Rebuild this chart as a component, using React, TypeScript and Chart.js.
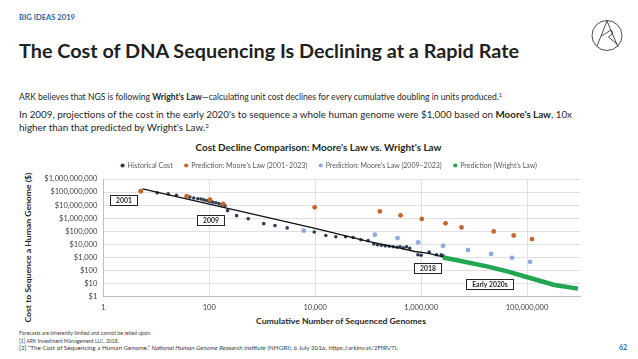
import React, { useEffect, useRef } from "react";
import { Chart, registerables } from "chart.js";

Chart.register(...registerables);

// ---------- data ----------
const seriesNames = [
  "Historical Cost",
  "Prediction: Moore's Law (2001–2023)",
  "Prediction: Moore's Law (2009–2023)",
  "Prediction (Wright's Law)",
];

const historicalGenomes = [
  10.4, 16.8, 24, 43, 51, 61, 70, 79, 90, 102, 116, 133, 152, 174, 198, 222, 329, 544, 1070, 1740, 2960,
  9600, 15900, 24500, 37500, 52000, 73000, 100000, 128000, 150000, 178000, 210000, 250000, 297000, 350000,
  400000, 460000, 530000, 610000, 870000, 1000000, 1420000, 1950000, 2400000, 2600000,
];
const historicalCost = [
  8.7e7, 7.2e7, 5.6e7, 4.1e7, 3.5e7, 3.1e7, 2.9e7, 2.5e7, 2.2e7, 1.9e7, 1.7e7, 1.5e7, 1.3e7, 1.0e7, 9.2e6,
  3.8e6, 1.56e6, 9.1e5, 3.8e5, 2.7e5, 1.8e5, 8.7e4, 4.7e4, 3.8e4, 3.8e4, 3.3e4, 2.2e4, 1.9e4, 1.04e4, 9.1e3,
  8.4e3, 7.6e3, 7.0e3, 6.4e3, 5.9e3, 6.4e3, 5.3e3, 6.4e3, 4.9e3, 1.56e3, 1.46e3, 2.5e3, 1.56e3, 1.56e3, 1.3e3,
];

const moore2001Genomes = [5.1, 37.5, 103, 184, 9800, 166000, 410000, 1030000, 2900000, 5800000, 23500000, 56000000, 124000000];
const moore2001Cost = [1.15e8, 4.8e7, 2.6e7, 1.24e7, 6.8e6, 3.3e6, 1.64e6, 8.7e5, 4.0e5, 1.95e5, 9.6e4, 4.7e4, 2.5e4];

const moore2009Genomes = [6100, 134000, 360000, 880000, 2600000, 7700000, 21000000, 52000000, 114000000];
const moore2009Cost = [1.1e5, 5.4e4, 3.0e4, 1.4e4, 7.7e3, 3.6e3, 1.8e3, 910, 450];

const wrightGenomes = [2600000, 4300000, 18400000, 44000000, 102000000, 330000000, 910000000];
const wrightCost = [966, 645, 196, 81, 30, 7.7, 4];

const trendGenomes = [5.5, 100, 10000, 100000, 400000, 760000, 1300000, 1800000, 2600000];
const trendCost = [1.76e8, 1.17e7, 1.64e5, 1.64e4, 5.1e3, 2.8e3, 2.1e3, 1.56e3, 1.1e3];

const xTickValues = [1, 100, 10000, 1000000, 100000000];
const yTickValues = [1, 10, 100, 1000, 10000, 100000, 1000000, 10000000, 100000000, 1000000000];

const annotationLabels = ["2001", "2009", "2018", "Early 2020s"];
const annotationGenomes = [2.43, 105, 1300000, 19800000];
const annotationCosts = [2.3e7, 7.7e5, 155, 8.7];

// ---------- styles ----------
const FONT = "Lato, 'Open Sans', sans-serif";
const BLUE = "#2467a6";
const TEXT = "#262626";
const colors = ["#2f3d55", "#c4672d", "#8faadc", "#21a651"];

const pts = (xs: number[], ys: number[]) => xs.map((x, i) => ({ x, y: ys[i] }));

const boxLabels = {
  id: "boxLabels",
  afterDatasetsDraw(chart: any) {
    const { ctx, scales } = chart;
    const xs = scales.x;
    const ys = scales.y;
    ctx.save();
    ctx.font = `700 6.8px ${FONT}`;
    annotationLabels.forEach((t, i) => {
      const px = xs.getPixelForValue(annotationGenomes[i]);
      const py = ys.getPixelForValue(annotationCosts[i]);
      const w = Math.round(ctx.measureText(t).width + 11);
      const h = 10;
      const l = Math.round(px - w / 2) + 0.5;
      const tp = Math.round(py - h / 2) + 0.5;
      ctx.fillStyle = "#ffffff";
      ctx.fillRect(l, tp, w, h);
      ctx.strokeStyle = "#262626";
      ctx.lineWidth = 1;
      ctx.strokeRect(l, tp, w, h);
      ctx.fillStyle = "#262626";
      ctx.textAlign = "center";
      ctx.textBaseline = "middle";
      ctx.fillText(t, l + w / 2, tp + h / 2 + 0.5);
    });
    ctx.restore();
  },
};

export default function App() {
  const ref = useRef<HTMLCanvasElement>(null);

  useEffect(() => {
    document.body.style.margin = "0";
    const canvas = ref.current;
    if (!canvas) return;
    const tickFont = { family: FONT, size: 7.5 };
    const chart = new Chart(canvas, {
      type: "scatter",
      data: {
        datasets: [
          {
            label: seriesNames[0],
            data: pts(historicalGenomes, historicalCost),
            backgroundColor: colors[0],
            borderColor: colors[0],
            pointRadius: 1.8,
            borderWidth: 0,
            order: 3,
          },
          {
            label: seriesNames[1],
            data: pts(moore2001Genomes, moore2001Cost),
            backgroundColor: colors[1],
            borderColor: colors[1],
            pointRadius: 2.4,
            borderWidth: 0,
            order: 2,
          },
          {
            label: seriesNames[2],
            data: pts(moore2009Genomes, moore2009Cost),
            backgroundColor: colors[2],
            borderColor: colors[2],
            pointRadius: 2.4,
            borderWidth: 0,
            order: 2,
          },
          {
            label: seriesNames[3],
            data: pts(wrightGenomes, wrightCost),
            backgroundColor: colors[3],
            borderColor: colors[3],
            showLine: true,
            borderWidth: 4.5,
            pointRadius: 0,
            order: 1,
          },
          {
            label: "trend",
            data: pts(trendGenomes, trendCost),
            borderColor: "#111111",
            backgroundColor: "#111111",
            showLine: true,
            borderWidth: 1.3,
            pointRadius: 0,
            order: 0,
          },
        ],
      } as any,
      options: {
        animation: false,
        responsive: false,
        devicePixelRatio: 1,
        layout: { padding: { left: 20, right: 0, top: 0, bottom: 0 } },
        plugins: {
          tooltip: { enabled: false },
          legend: {
            display: true,
            position: "top",
            labels: {
              usePointStyle: true,
              pointStyle: "circle",
              boxWidth: 3,
              boxHeight: 3,
              padding: 12,
              color: "#595959",
              font: { family: FONT, size: 7 },
              filter: (item: any) => item.text !== "trend",
              sort: (a: any, b: any) => a.datasetIndex - b.datasetIndex,
              generateLabels: (c: any) =>
                Chart.defaults.plugins.legend.labels
                  .generateLabels(c)
                  .map((it: any) => ({ ...it, lineWidth: 0, strokeStyle: it.fillStyle })),
            },
          },
        },
        scales: {
          x: {
            type: "logarithmic",
            min: 1,
            max: 1000000000,
            afterBuildTicks: (s: any) => {
              s.ticks = xTickValues.map((v) => ({ value: v }));
            },
            afterFit: (s: any) => {
              s.height = 20.5;
            },
            ticks: {
              autoSkip: false,
              maxRotation: 0,
              padding: 7,
              color: "#404040",
              font: tickFont,
              callback: (v: any) => Number(v).toLocaleString("en-US"),
            },
            grid: { color: "#d9d9d9", lineWidth: 0.8, drawTicks: false },
            border: { color: "#bfbfbf", width: 1 },
          },
          y: {
            type: "logarithmic",
            min: 1,
            max: 1000000000,
            afterBuildTicks: (s: any) => {
              s.ticks = yTickValues.map((v) => ({ value: v }));
            },
            afterFit: (s: any) => {
              s.width = 83.3;
            },
            ticks: {
              autoSkip: false,
              padding: 6,
              color: "#404040",
              font: tickFont,
              callback: (v: any) => "$" + Number(v).toLocaleString("en-US"),
            },
            grid: { color: "#d9d9d9", lineWidth: 0.8, drawTicks: false },
            border: { color: "#bfbfbf", width: 1 },
          },
          y2: {
            type: "linear",
            position: "right",
            display: true,
            grid: { display: false, drawOnChartArea: false },
            ticks: { display: false },
            border: { display: false },
            afterFit: (s: any) => {
              s.width = 58;
            },
          },
        },
      } as any,
      plugins: [boxLabels],
    });
    return () => chart.destroy();
  }, []);

  return (
    <div style={{ position: "fixed", left: 0, top: 0, width: 638, height: 359, background: "#fff", overflow: "hidden" }}>
      <svg
        width={638}
        height={359}
        style={{ position: "absolute", left: 0, top: 0 }}
        fontFamily={FONT}
      >
        <text x={19} y={20} fontSize={7.5} fontWeight={700} fill={BLUE} textLength={56} lengthAdjust="spacingAndGlyphs">
          BIG IDEAS 2019
        </text>
        <g stroke="#231f20" strokeWidth={0.8} fill="none">
          <circle cx={607} cy={35.5} r={15} />
          <path d="M597,46 L607,21 L618,47 M601.5,36 L611,30 Q615,33.5 608.5,37 L617,44" />
        </g>
        <text x={19} y={58} fontSize={19.5} fontWeight={700} fill="#231f20" textLength={500} lengthAdjust="spacingAndGlyphs">
          The Cost of DNA Sequencing Is Declining at a Rapid Rate
        </text>
        <text x={19} y={100} fontSize={8.7} fill={TEXT} textLength={483} lengthAdjust="spacingAndGlyphs">
          ARK believes that NGS is following <tspan fontWeight={700}>Wright's Law</tspan>—calculating unit cost declines for every cumulative doubling in units produced.
          <tspan fontSize={5.5} dy={-3.5}>1</tspan>
        </text>
        <text x={19} y={118} fontSize={8.7} fill={TEXT} textLength={553} lengthAdjust="spacingAndGlyphs">
          In 2009, projections of the cost in the early 2020's to sequence a whole human genome were $1,000 based on{" "}
          <tspan fontWeight={700}>Moore's Law</tspan>, 10x
        </text>
        <text x={19} y={131} fontSize={8.7} fill={TEXT} textLength={190} lengthAdjust="spacingAndGlyphs">
          higher than that predicted by Wright's Law.<tspan fontSize={5.5} dy={-3.5}>2</tspan>
        </text>
        <text x={318.5} y={151} fontSize={9.5} fontWeight={700} fill="#231f20" textAnchor="middle" textLength={246} lengthAdjust="spacingAndGlyphs">
          Cost Decline Comparison: Moore's Law vs. Wright's Law
        </text>
        <text
          x={0}
          y={0}
          transform="translate(31,247.5) rotate(-90)"
          fontSize={8}
          fontWeight={700}
          fill="#262626"
          textAnchor="middle"
          textLength={150}
          lengthAdjust="spacingAndGlyphs"
        >
          Cost to Sequence a Human Genome ($)
        </text>
        <text x={341} y={324} fontSize={8.3} fontWeight={700} fill="#262626" textAnchor="middle" textLength={170} lengthAdjust="spacingAndGlyphs">
          Cumulative Number of Sequenced Genomes
        </text>
        <text x={19} y={335} fontSize={5.3} fill="#404040" textLength={132} lengthAdjust="spacingAndGlyphs">
          Forecasts are inherently limited and cannot be relied upon.
        </text>
        <text x={19} y={342.5} fontSize={5.3} fill="#404040" textLength={100} lengthAdjust="spacingAndGlyphs">
          [1] ARK Investment Management LLC, 2018.
        </text>
        <text x={19} y={350} fontSize={5.3} fill="#404040" textLength={379} lengthAdjust="spacingAndGlyphs">
          [2] “The Cost of Sequencing a Human Genome.” <tspan fontStyle="italic">National Human Genome Research Institute</tspan> (NHGRI), 6 July 2016, https://arkinv.st/2FfRV7I.
        </text>
        <text x={627} y={350} fontSize={7} fontWeight={700} fill={BLUE} textAnchor="end">
          62
        </text>
      </svg>
      <canvas
        ref={ref}
        width={638}
        height={167}
        style={{ position: "absolute", left: 0, top: 150, width: 638, height: 167 }}
      />
    </div>
  );
}
